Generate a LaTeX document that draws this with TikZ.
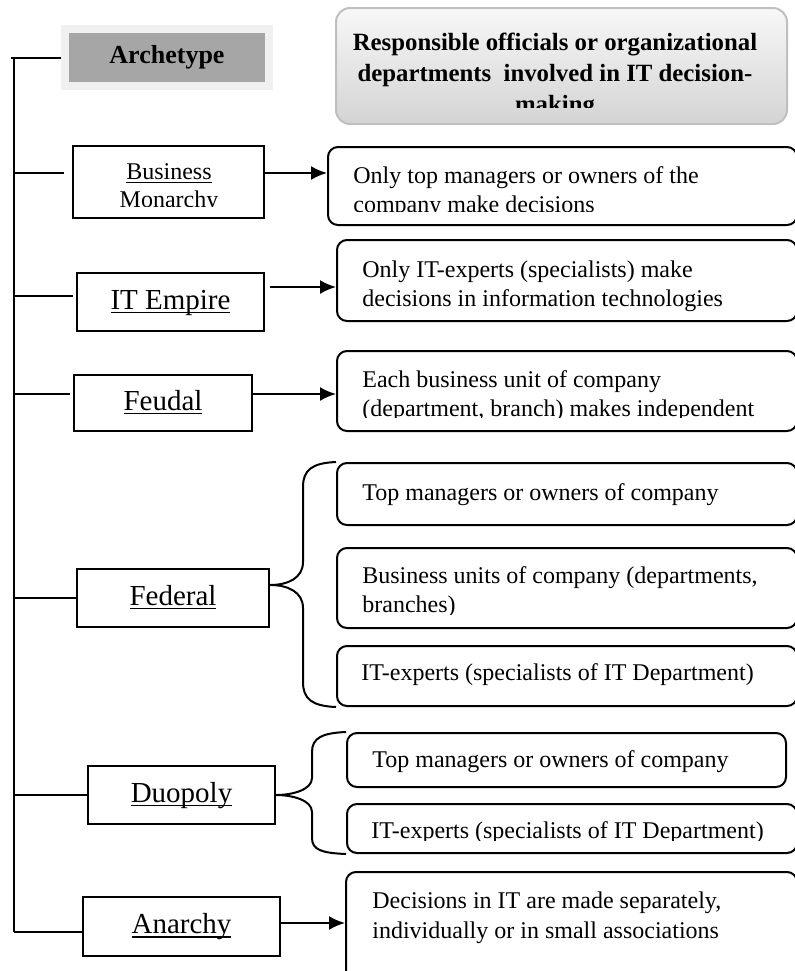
\documentclass[tikz,border=0pt]{standalone}
\usepackage{fontspec}
\setmainfont{Liberation Serif}
\usetikzlibrary{arrows.meta}
\newcommand\ulword[1]{\setbox0=\hbox{#1}\rlap{\rule[-2.2pt]{\wd0}{0.8pt}}\box0}
\tikzset{
  con/.style={line width=1pt},
  arw/.style={line width=1pt, -{Latex[length=8pt,width=7pt]}},
  archbox/.style={draw, line width=1pt, inner sep=0pt, text height=10pt, text depth=3pt,
    font=\fontsize{14.5}{17}\selectfont},
  infobox/.style={draw, line width=1pt, rounded corners=5pt, inner sep=0pt},
  infotext/.style={anchor=base west, inner sep=0pt, align=left, font=\fontsize{12}{14.5}\selectfont},
}
\begin{document}
\begin{tikzpicture}[x=0.5pt, y=-0.5pt]
  \useasboundingbox (0,0) rectangle (794,971);

  % column headings
  \node[draw=black!25, line width=1pt, rounded corners=7pt, top color=black!3, bottom color=black!17,
        minimum width=225.5pt, minimum height=58pt] (head) at (561.5,66) {};
  \begin{scope}
    \clip (336,8) rectangle (787,107);
    \node[anchor=base, inner sep=0pt, align=center, font=\bfseries\fontsize{12.4}{15.5}\selectfont] (headtxt)
      at (555,112) {Responsible officials or organizational\\departments\ \ involved in IT decision-\\making};
  \end{scope}
  \node[fill=black!35, draw=black!6, line width=4pt, minimum width=102pt, minimum height=28.5pt,
        font=\bfseries\fontsize{13}{15}\selectfont] (arch) at (167,57.5) {Archetype};

  % archetypes
  \node[archbox, minimum width=95.5pt, minimum height=36pt] (bm) at (168.5,182) {};
  \begin{scope}
    \clip (73,146) rectangle (264,206);
    \node[anchor=base, inner sep=0pt, align=center, font=\fontsize{12}{14}\selectfont] (bmtxt)
      at (169,207) {\ulword{Business}\\Monarchy};
  \end{scope}
  \node[archbox, minimum width=93.5pt, minimum height=29pt] (it) at (170.5,302) {\ulword{IT Empire}};
  \node[archbox, minimum width=89pt, minimum height=28pt] (fe) at (163,403) {\ulword{Feudal}};
  \node[archbox, minimum width=96pt, minimum height=29pt] (fed) at (173,598) {\ulword{Federal}};
  \node[archbox, minimum width=93.5pt, minimum height=29pt] (duo) at (181.5,795) {\ulword{Duopoly}};
  \node[archbox, minimum width=98.5pt, minimum height=29.5pt] (an) at (181.5,926.5) {\ulword{Anarchy}};

  % who decides
  \node[infobox, minimum width=234.5pt, minimum height=39pt] (r1) at (562.5,186) {};
  \begin{scope}
    \clip (328,147) rectangle (797,211);
    \node[infotext] (r1txt) at (353,212) {Only top managers or owners of the\\company make decisions};
  \end{scope}
  \node[infobox, minimum width=230pt, minimum height=40.5pt] (r2) at (567,280.5) {};
  \begin{scope}
    \clip (337,240) rectangle (797,312);
    \node[infotext] (r2txt) at (362,306) {Only IT-experts (specialists) make\\decisions in information technologies};
  \end{scope}
  \node[infobox, minimum width=230pt, minimum height=40pt] (r3) at (567,391) {};
  \begin{scope}
    \clip (337,351) rectangle (797,417);
    \node[infotext] (r3txt) at (362,416) {Each business unit of company\\(department, branch) makes independent};
  \end{scope}
  \node[infobox, minimum width=230pt, minimum height=31pt] (f1) at (567,494) {};
  \node[infotext] (f1txt) at (362,500) {Top managers or owners of company};
  \node[infobox, minimum width=230pt, minimum height=40pt] (f2) at (567,588) {};
  \begin{scope}
    \clip (337,548) rectangle (797,614);
    \node[infotext] (f2txt) at (362,612) {Business units of company (departments,\\branches)};
  \end{scope}
  \node[infobox, minimum width=230pt, minimum height=30pt] (f3) at (567,676) {};
  \node[infotext] (f3txt) at (361,680) {IT-experts (specialists of IT Department)};
  \node[infobox, minimum width=219.5pt, minimum height=27pt] (d1) at (566.5,760) {};
  \node[infotext] (d1txt) at (372,767) {Top managers or owners of company};
  \node[infobox, minimum width=225pt, minimum height=24.5pt] (d2) at (572,828.5) {};
  \begin{scope}
    \clip (347,804) rectangle (797,840);
    \node[infotext] (d2txt) at (371,838) {IT-experts (specialists of IT Department)};
  \end{scope}
  \node[infobox, minimum width=225.5pt, minimum height=59pt] (ab) at (571.5,931) {};
  \node[infotext, font=\fontsize{12}{15}\selectfont] (abtxt) at (372,938)
    {Decisions in IT are made separately,\\individually or in small associations};

  % trunk and branches
  \coordinate (top) at (14,58);
  \coordinate (l1) at ([yshift=4.5pt]bm.west);
  \coordinate (l2) at ([yshift=3pt]it.west);
  \coordinate (a2) at ([yshift=7.5pt]it.east);
  \coordinate (l3) at ([yshift=4.5pt]fe.west);
  \coordinate (l6) at ([yshift=-2.75pt]an.west);
  \coordinate (a6) at ([yshift=1.75pt]an.east);
  \draw[con] (top) -- (top |- l6);
  \draw[con] ([xshift=-1.5pt]top) -- (top -| arch.west);
  \draw[con] (top |- l1) -- ([xshift=-4pt]l1);
  \draw[arw] (l1 -| bm.east) -- (l1 -| r1.west);
  \draw[con] (top |- l2) -- ([xshift=-1.5pt]l2);
  \draw[arw] ([xshift=2.5pt]a2) -- (a2 -| r2.west);
  \draw[con] (top |- l3) -- ([xshift=-1.5pt]l3);
  \draw[arw] (l3 -| fe.east) -- (l3 -| r3.west);
  \draw[con] (top |- fed.west) -- (fed.west);
  \draw[con] (top |- duo.west) -- (duo.west);
  \draw[con] (top |- l6) -- (l6);
  \draw[arw] (a6) -- (a6 -| ab.west);

  % braces
  \coordinate (fedtip) at ([yshift=6.5pt]fed.east);
  \draw[con] (f1.north west) .. controls (312,463) and (303,470) .. (303,487) -- (303,562)
    .. controls (303,578) and (288,585) .. (fedtip) .. controls (288,585) and (303,592) .. (303,608)
    -- (303,682) .. controls (303,699) and (312,706) .. (f3.south west);
  \draw[con] (d1.north west) .. controls (322,733) and (312,738) .. (312,752) -- (312,778)
    .. controls (312,790) and (292,795) .. (duo.east) .. controls (292,795) and (312,800) .. (312,812)
    -- (312,838) .. controls (312,850) and (322,853) .. (d2.south west);
\end{tikzpicture}
\end{document}
